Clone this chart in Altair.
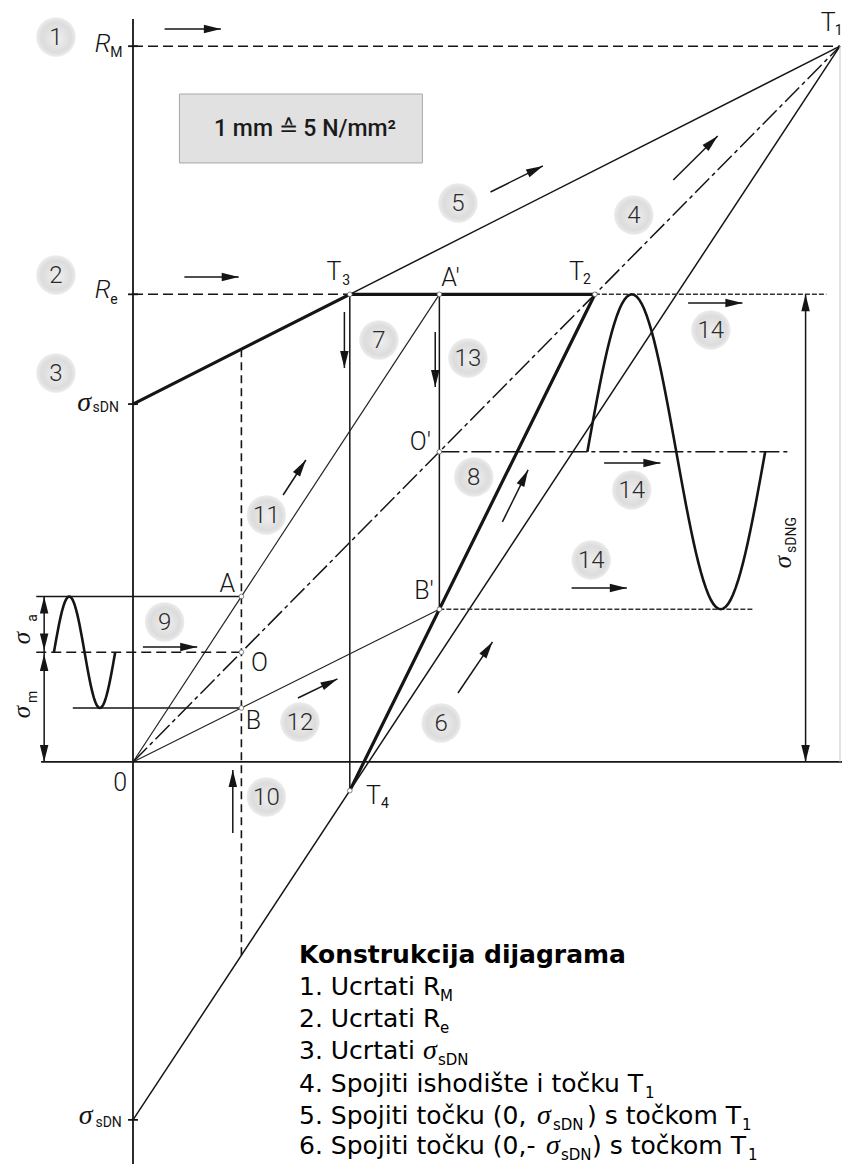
import math
import numpy as np
import pandas as pd
import altair as alt

# ---------------- construction values (N/mm^2) ----------------
R_M = 600.0        # tensile strength  (T1 = (R_M, R_M))
R_E = 392.0        # yield strength
S_DN = 300.0       # fatigue strength sigma_sDN
SM_AOB = 92.0      # mean stress of construction A - O - B
SM_PRIME = 260.0   # mean stress of construction A' - O' - B'

# derived construction points
T1 = (R_M, R_M)
slope_up = (R_M - S_DN) / R_M
slope_lo = (R_M + S_DN) / R_M
T3 = ((R_E - S_DN) / slope_up, R_E)
T2 = (R_E, R_E)
T4 = (T3[0], -S_DN + slope_lo * T3[0])
A_p = (SM_PRIME, R_E)
O_p = (SM_PRIME, SM_PRIME)
B_p = (SM_PRIME, 2 * SM_PRIME - R_E)
A = (SM_AOB, SM_AOB * A_p[1] / SM_PRIME)
O = (SM_AOB, SM_AOB)
B = (SM_AOB, SM_AOB * B_p[1] / SM_PRIME)

# extents of helper lines (same units)
AXIS_TOP, AXIS_BOTTOM, AXIS_LEFT, AXIS_RIGHT = 622.8, -337.0, -78.0, 601.7
LEFT_A, LEFT_O, LEFT_B = -82.1, -82.1, -51.1
DIM_L, DIM_R = -75.4, 570.8
RE_EXT, BP_EXT, OP_EXT = 588.4, 527.2, 557.4
DASH_TOP = S_DN + slope_up * SM_AOB
DASH_BOT = -S_DN + slope_lo * SM_AOB
WAVE_L = (-67.1, -15.1)
WAVE_R = (385.6, 536.5)

# scales
xs = alt.Scale(domain=[-106.08, 601.7], nice=False, zero=False)
ys = alt.Scale(domain=[-337.0, 632.0], nice=False, zero=False)
def X(f="u"):
    return alt.X(f"{f}:Q", scale=xs, axis=None)
def Y(f="v"):
    return alt.Y(f"{f}:Q", scale=ys, axis=None)

INK = "#151515"

# ---------------- line segments ----------------
rows = []
def add(style, name, pts):
    for i, (u, v) in enumerate(pts):
        rows.append(dict(style=style, seg=name, ord=i, u=float(u), v=float(v)))

add("axis", "yaxis", [(0, AXIS_TOP), (0, AXIS_BOTTOM)])
add("axis", "xaxis", [(AXIS_LEFT, 0), (AXIS_RIGHT, 0)])
for val in [R_M, R_E, S_DN, -S_DN]:
    add("axis", f"tick{val}", [(-4.2, val), (4.2, val)])
add("thick", "boundary", [(0, S_DN), T3, T2, T4])
add("thin", "l5", [T3, T1])
add("thin", "l6", [(0, -S_DN), T1])
add("thin", "vT3", [T3, T4])
add("thin", "vAp", [A_p, B_p])
add("thin", "hA", [(LEFT_A, A[1]), A])
add("thin", "hB", [(LEFT_B, B[1]), B])
add("thin", "dimL", [(DIM_L, A[1]), (DIM_L, 0)])
add("thin", "dimR", [(DIM_R, R_E), (DIM_R, 0)])
add("light", "oa", [(0, 0), A_p])
add("light", "ob", [(0, 0), B_p])
add("dash", "rm", [(0, R_M), T1])
add("dash", "re", [(0, R_E), T3])
add("dash", "hO", [(LEFT_O, O[1]), O])
add("dashv", "vA", [(SM_AOB, DASH_TOP), (SM_AOB, DASH_BOT)])
add("fine", "reext", [T2, (RE_EXT, R_E)])
add("fine", "bpext", [B_p, (BP_EXT, B_p[1])])
add("dashdot", "l4", [(0, 0), T1])
add("dashdot", "opext", [O_p, (OP_EXT, O_p[1])])
add("faint", "edge", [T1, (R_M, 0)])
t = np.linspace(0, 1, 73)
amp_l = A[1] - O[1]
amp_r = R_E - SM_PRIME
add("wave", "waveL", list(zip(WAVE_L[0] + (WAVE_L[1] - WAVE_L[0]) * t, O[1] + amp_l * np.sin(2 * np.pi * t))))
add("wave", "waveR", list(zip(WAVE_R[0] + (WAVE_R[1] - WAVE_R[0]) * t, O_p[1] + amp_r * np.sin(2 * np.pi * t))))
lines = pd.DataFrame(rows)

STYLES = {
    "axis": dict(strokeWidth=1.8, color=INK),
    "thick": dict(strokeWidth=3.2, color=INK),
    "thin": dict(strokeWidth=1.5, color=INK),
    "light": dict(strokeWidth=1.2, color="#222222"),
    "dash": dict(strokeWidth=1.6, color=INK, strokeDash=[10, 5]),
    "dashv": dict(strokeWidth=1.6, color=INK, strokeDash=[8, 5]),
    "fine": dict(strokeWidth=1.4, color="#333333", strokeDash=[5, 2]),
    "dashdot": dict(strokeWidth=1.5, color=INK, strokeDash=[20, 4, 4, 4]),
    "wave": dict(strokeWidth=2.6, color=INK),
    "faint": dict(strokeWidth=1.0, color="#c8c8c8"),
}
layers = []
for st, kw in STYLES.items():
    layers.append(
        alt.Chart(lines[lines["style"] == st]).mark_line(strokeCap="butt", **kw).encode(
            x=X(), y=Y(), detail="seg:N", order="ord:Q")
    )

# ---------------- scale box ----------------
box = pd.DataFrame({"u": [39.4], "u2": [245.6], "v": [502.1], "v2": [559.9]})
layers.append(alt.Chart(box).mark_rect(fill="#e1e1e1", stroke="#a8a8a8", strokeWidth=1).encode(
    x=X(), x2="u2:Q", y=Y(), y2="v2:Q"))
layers.append(alt.Chart(pd.DataFrame({"u": [146.0], "v": [530.6], "t": ["1 mm \u2259 5 N/mm\u00b2"]}))
              .mark_text(font="Roboto", fontWeight=500,
                         fontSize=23, color="#1a1a1a", align="center", baseline="middle")
              .encode(x=X(), y=Y(), text="t:N"))

# ---------------- arrows ----------------
ARROW_U0 = [26.8, 43.6, 303.4, 458.5, 179.4, 256.5, 471.1, 127.4, 8.4, 140.0, 84.7, 313.5, 399.8, 372.2, 275.8]
ARROW_V0 = [614.4, 406.5, 477.8, 487.8, 377.2, 360.4, 384.7, 223.8, 96.4, 53.6, -59.5, 201.2, 250.6, 145.9, 57.8]
ARROW_U1 = [74.6, 89.7, 347.9, 496.2, 179.4, 256.5, 517.2, 146.7, 54.5, 173.5, 84.7, 335.3, 447.6, 419.1, 305.1]
ARROW_V1 = [614.4, 406.5, 499.6, 524.7, 330.3, 314.3, 384.7, 253.1, 96.4, 69.6, -6.7, 244.8, 250.6, 145.9, 100.6]
arrows = pd.DataFrame({"u": ARROW_U0, "v": ARROW_V0, "u2": ARROW_U1, "v2": ARROW_V1})
layers.append(alt.Chart(arrows).mark_rule(strokeWidth=1.5, color=INK).encode(
    x=X(), y=Y(), x2="u2:Q", y2="v2:Q"))

heads = [(r.u2, r.v2, math.degrees(math.atan2(-(r.v2 - r.v), r.u2 - r.u)) % 360) for r in arrows.itertuples()]
heads += [(DIM_L, A[1], 270), (DIM_L, O[1] + 1.5, 90), (DIM_L, O[1] - 1.5, 270), (DIM_L, 0, 90),
          (DIM_R, R_E, 270), (DIM_R, 0, 90)]
heads_df = pd.DataFrame(heads, columns=["u", "v", "ang"])
HEAD = "M0,0L-2,-0.5L-2,0.5Z"
layers.append(alt.Chart(heads_df).mark_point(shape=HEAD, filled=True, fill=INK, strokeWidth=0, size=290, opacity=1)
              .encode(x=X(), y=Y(), angle=alt.Angle("ang:Q", scale=None)))

pts = pd.DataFrame([A, O, B, A_p, O_p, B_p, T2, T3, T4], columns=["u", "v"])
layers.append(alt.Chart(pts).mark_point(shape="circle", filled=True, fill="white", stroke="#555555",
                                        strokeWidth=0.7, size=22, opacity=1).encode(x=X(), y=Y()))

# ---------------- numbered circles ----------------
NUM_T = ["1", "2", "3", "4", "5", "6", "7", "8", "9", "10", "11", "12", "13", "14", "14", "14"]
NUM_U = [-65.4, -65.4, -65.4, 425.0, 275.8, 261.5, 208.7, 289.2, 26.8, 113.2, 113.2, 141.7, 284.2, 490.4, 423.3, 388.9]
NUM_V = [607.7, 408.2, 326.1, 458.5, 468.6, 32.7, 353.7, 238.9, 117.4, -29.3, 207.0, 33.5, 338.6, 362.1, 228.0, 169.3]
nums = pd.DataFrame({"t": NUM_T, "u": NUM_U, "v": NUM_V})
grad = alt.RadialGradient(gradient="radial", x1=0.55, y1=0.55, x2=0.5, y2=0.5, r1=0, r2=0.5,
                          stops=[alt.GradientStop(color="#efefef", offset=0),
                                 alt.GradientStop(color="#dcdcdc", offset=0.75),
                                 alt.GradientStop(color="#ececec", offset=1)])
layers.append(alt.Chart(nums).mark_point(shape="circle", filled=True, fill=grad, strokeWidth=0, size=1560, opacity=1)
              .encode(x=X(), y=Y()))
layers.append(alt.Chart(nums).mark_text(font="Roboto", fontWeight=300, fontSize=24, color="#2a2a2a",
                                        align="center", baseline="middle", dy=1)
              .encode(x=X(), y=Y(), text="t:N"))

# ---------------- diagram labels ----------------
LBL_T = ["T", "T", "T", "T", "A\u2032", "O\u2032", "B\u2032", "A", "O", "B", "0"]
LBL_U = [590.0, 170.6, 376.4, 204.1, 269.5, 243.9, 246.9, 80.0, 107.3, 102.3, -10.9]
LBL_V = [619.4, 410.3, 410.3, -28.5, 405.7, 267.8, 142.9, 148.8, 82.6, 34.4, -18.0]
layers.append(alt.Chart(pd.DataFrame({"t": LBL_T, "u": LBL_U, "v": LBL_V}))
              .mark_text(font="Roboto", fontWeight=300, fontSize=25, color=INK, align="center", baseline="middle")
              .encode(x=X(), y=Y(), text="t:N"))

SUB_T = ["1", "3", "2", "4", "M", "e", "sDN", "sDN"]
SUB_U = [595.5, 177.5, 382.0, 210.4, -19.3, -19.3, -34.4, -31.9]
SUB_V = [613.1, 403.5, 404.4, -35.0, 594.3, 387.3, 296.7, -302.6]
layers.append(alt.Chart(pd.DataFrame({"t": SUB_T, "u": SUB_U, "v": SUB_V}))
              .mark_text(font="Roboto", fontSize=14, color=INK, align="left", baseline="middle")
              .encode(x=X(), y=Y(), text="t:N"))

R_U = [-25.6, -25.6]
R_V = [601.8, 395.2]
layers.append(alt.Chart(pd.DataFrame({"t": ["R", "R"], "u": R_U, "v": R_V}))
              .mark_text(font="Roboto", fontWeight=300, fontStyle="italic", fontSize=26, color=INK, align="center", baseline="middle")
              .encode(x=X(), y=Y(), text="t:N"))

SIG_U = [-41.5, -40.2]
SIG_V = [300.9, -296.7]
layers.append(alt.Chart(pd.DataFrame({"t": ["\u03c3", "\u03c3"], "u": SIG_U, "v": SIG_V}))
              .mark_text(font="Liberation Serif", fontStyle="italic", fontSize=28, color=INK, align="center", baseline="middle")
              .encode(x=X(), y=Y(), text="t:N"))

ROT_SIG_U = [-94.2, -94.2, 551.6]
ROT_SIG_V = [103.9, 41.9, 167.6]
layers.append(alt.Chart(pd.DataFrame({"t": ["\u03c3"] * 3, "u": ROT_SIG_U, "v": ROT_SIG_V}))
              .mark_text(font="Liberation Serif", fontStyle="italic", fontSize=25, color=INK, align="center",
                         baseline="middle", angle=270)
              .encode(x=X(), y=Y(), text="t:N"))
ROT_SUB_T = ["a", "m", "sDNG"]
ROT_SUB_U = [-85.0, -85.0, 559.1]
ROT_SUB_V = [120.7, 54.5, 190.3]
layers.append(alt.Chart(pd.DataFrame({"t": ROT_SUB_T, "u": ROT_SUB_U, "v": ROT_SUB_V}))
              .mark_text(font="Roboto", fontSize=14, color=INK, align="center", baseline="middle", angle=270)
              .encode(x=X(), y=Y(), text="t:N"))

# ---------------- construction steps text ----------------
TITLE = "Konstrukcija dijagrama"
layers.append(alt.Chart(pd.DataFrame({"t": [TITLE], "u": [140.9], "v": [-168.5]}))
              .mark_text(font="DejaVu Sans", fontWeight="bold", fontSize=25, color="black", align="left", baseline="alphabetic")
              .encode(x=X(), y=Y(), text="t:N"))
STEP_T = ["1. Ucrtati R", "2. Ucrtati R", "3. Ucrtati", "4. Spojiti ishodište i točku T",
          "5. Spojiti točku (0,", ") s točkom T", "6. Spojiti točku (0,-", ") s točkom T"]
STEP_U = [140.9, 140.9, 140.9, 140.9, 140.9, 385.3, 140.9, 389.5]
STEP_V = [-195.3, -222.1, -248.9, -276.6, -303.4, -303.4, -328.6, -328.6]
layers.append(alt.Chart(pd.DataFrame({"t": STEP_T, "u": STEP_U, "v": STEP_V}))
              .mark_text(font="DejaVu Sans", fontSize=25, color="black", align="left", baseline="alphabetic")
              .encode(x=X(), y=Y(), text="t:N"))
STEP_SUB_T = ["M", "e", "sDN", "1", "sDN", "1", "sDN", "1"]
STEP_SUB_U = [260.5, 260.5, 258.8, 434.5, 356.4, 516.8, 363.2, 521.9]
STEP_SUB_V = [-200.3, -227.2, -254.0, -281.6, -308.5, -308.5, -333.6, -333.6]
layers.append(alt.Chart(pd.DataFrame({"t": STEP_SUB_T, "u": STEP_SUB_U, "v": STEP_SUB_V}))
              .mark_text(font="DejaVu Sans", fontSize=15, color="black", align="left", baseline="alphabetic")
              .encode(x=X(), y=Y(), text="t:N"))
STEP_SIG_U = [246.1, 342.9, 350.5]
STEP_SIG_V = [-248.9, -303.4, -328.6]
layers.append(alt.Chart(pd.DataFrame({"t": ["\u03c3"] * 3, "u": STEP_SIG_U, "v": STEP_SIG_V}))
              .mark_text(font="Liberation Serif", fontStyle="italic", fontSize=28, color="black", align="left", baseline="alphabetic")
              .encode(x=X(), y=Y(), text="t:N"))

chart = alt.layer(*layers).properties(
    width=834, height=1156, padding=0, autosize=alt.AutoSizeParams(type="none"),
    background="white",
).configure_view(stroke=None)

chart.save("out.html", embed_options={"renderer": "svg", "actions": False})
